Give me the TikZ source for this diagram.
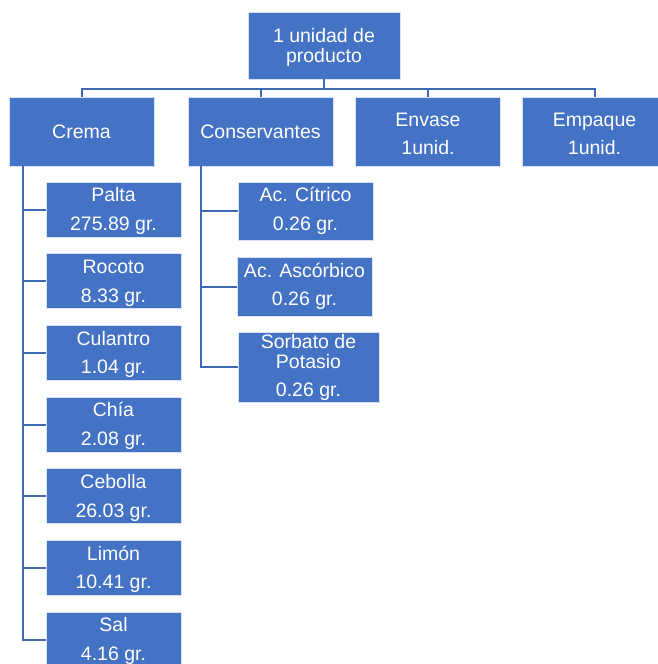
\documentclass[tikz,border=0pt]{standalone}
\usepackage{fontspec}
\setmainfont{Liberation Sans}
\definecolor{boxblue}{HTML}{4472C4}
\definecolor{linkblue}{HTML}{3F68B5}
% taller first line: sets a two-line label a little lower in its box
\newcommand\fls{\rule{0pt}{17.5pt}}
\begin{document}
\begin{tikzpicture}[x=1pt,y=-1pt,
  box/.style={rectangle, fill=boxblue, draw=white!80!boxblue, line width=0.6pt,
    text=white, inner sep=0pt, align=center,
    font=\fontsize{19.5}{20}\selectfont},
  topbox/.style={box, minimum width=152pt, minimum height=67pt},
  groupbox/.style={box, minimum width=145pt, minimum height=69pt},
  itembox/.style={box, minimum width=135pt, minimum height=55pt},
  link/.style={draw=linkblue, line width=2pt}]
\useasboundingbox (0,0) rectangle (657,664);

% root and first level
\node[topbox] (root) at (324,45.5) {\fls 1 unidad de\\producto};
\node[groupbox] (crema) at (81.5,131.5) {Crema};
\node[groupbox] (cons) at (260.5,131.5) {Conservantes};
\node[groupbox] (envase) at (428,131.5) {\fls Envase\\[8pt]1unid.};
\node[groupbox] (empaque) at (594.5,131.5) {\fls Empaque\\[8pt]1unid.};

% ingredients of the cream
\node[itembox] (palta)    at (113.5,209.5) {\fls Palta\\[8.5pt]275.89 gr.};
\node[itembox] (rocoto)   at (113.5,281.2) {\fls Rocoto\\[8.5pt]8.33 gr.};
\node[itembox] (culantro) at (113.5,352.8) {\fls Culantro\\[8.5pt]1.04 gr.};
\node[itembox] (chia)     at (113.5,424.5) {\fls Chía\\[8.5pt]2.08 gr.};
\node[itembox] (cebolla)  at (113.5,496.2) {\fls Cebolla\\[8.5pt]26.03 gr.};
\node[itembox] (limon)    at (113.5,567.8) {\fls Limón\\[8.5pt]10.41 gr.};
\node[itembox] (sal)      at (113.5,639.5) {\fls Sal\\[8.5pt]4.16 gr.};

% preservatives
\node[itembox, minimum height=58pt] (citrico) at (305.5,211) {Ac. Cítrico\\[8.5pt]0.26 gr.};
\node[itembox, minimum height=59pt] (ascorbico) at (304.5,286.5) {Ac. Ascórbico\\[8.5pt]0.26 gr.};
\node[itembox, minimum width=141pt, minimum height=70pt] (sorbato) at (308.5,367) {Sorbato de\\Potasio\\[8pt]0.26 gr.};

% connectors from the root to the first level
\coordinate (bus) at (324,89);
\draw[link] (root.south) -- (bus);
\draw[link] (crema.north) -- (crema.north |- bus) -- (empaque.north |- bus) -- (empaque.north);
\draw[link] (cons.north) -- (cons.north |- bus);
\draw[link] (envase.north) -- (envase.north |- bus);

% cream branch
\coordinate (cremaspine) at ([xshift=14pt]crema.south west);
\draw[link] (cremaspine) |- (sal.west);
\foreach \n in {palta,rocoto,culantro,chia,cebolla,limon}
  \draw[link] (\n.west) -- (\n.west -| cremaspine);

% preservatives branch
\coordinate (consspine) at ([xshift=13pt]cons.south west);
\draw[link] (consspine) |- (sorbato.west);
\foreach \n in {citrico,ascorbico}
  \draw[link] (\n.west) -- (\n.west -| consspine);
\end{tikzpicture}
\end{document}
